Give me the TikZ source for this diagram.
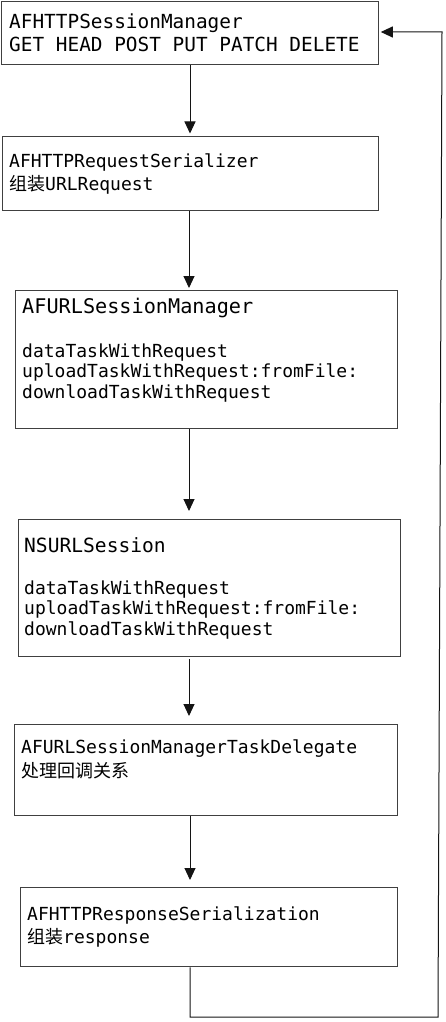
\documentclass[tikz,border=0pt]{standalone}
\usepackage{fontspec}
\setmainfont{DejaVu Sans Mono}
\newfontfamily\cjk{Noto Sans CJK SC}
\usetikzlibrary{arrows.meta}
\definecolor{boxline}{RGB}{64,64,64}
\definecolor{arrline}{RGB}{20,20,20}
\tikzset{
  box/.style={draw=boxline, line width=1.3pt, rectangle, inner sep=0pt, anchor=north west},
  txt/.style={inner sep=0pt, anchor=base west, text=black},
  fA/.style={font=\fontsize{19.4}{23}\selectfont},
  fB/.style={font=\fontsize{18}{21}\selectfont},
  fC/.style={font=\fontsize{20.2}{24}\selectfont},
  fD/.style={font=\fontsize{19.6}{24}\selectfont},
  arr/.style={draw=arrline, line width=1pt, -{Triangle[length=12pt,width=11pt]}},
}
\begin{document}
\begin{tikzpicture}[x=1pt,y=-1pt]
\useasboundingbox[fill=white] (0,0) rectangle (445,1022);
% boxes
\node[box, minimum width=377pt, minimum height=63pt] (b1) at (1,1) {};
\node[box, minimum width=376pt, minimum height=74pt] (b2) at (2,136) {};
\node[box, minimum width=382pt, minimum height=138pt] (b3) at (15,290) {};
\node[box, minimum width=382pt, minimum height=137pt] (b4) at (18,519) {};
\node[box, minimum width=383pt, minimum height=91pt] (b5) at (14,724) {};
\node[box, minimum width=377pt, minimum height=79pt] (b6) at (20,887) {};
% texts
\node[txt, fA] (t1a) at (9,29) {AFHTTPSessionManager};
\node[txt, fA] (t1b) at (9,52) {GET HEAD POST PUT PATCH DELETE};
\node[txt, fB] (t2a) at (9,167) {AFHTTPRequestSerializer};
\node[txt, fB] (t2b) at (9,190) {{\cjk 组装}URLRequest};
\node[txt, fC] (t3a) at (22,313) {AFURLSessionManager};
\node[txt, fB] (t3b) at (22,357) {dataTaskWithRequest};
\node[txt, fB] (t3c) at (22,377.5) {uploadTaskWithRequest:fromFile:};
\node[txt, fB] (t3d) at (22,398) {downloadTaskWithRequest};
\node[txt, fD] (t4a) at (24,552) {NSURLSession};
\node[txt, fB] (t4b) at (24,594) {dataTaskWithRequest};
\node[txt, fB] (t4c) at (24,614.5) {uploadTaskWithRequest:fromFile:};
\node[txt, fB] (t4d) at (24,635) {downloadTaskWithRequest};
\node[txt, fB] (t5a) at (21,753) {AFURLSessionManagerTaskDelegate};
\node[txt, fB] (t5b) at (21,777) {\cjk 处理回调关系};
\node[txt, fB] (t6a) at (27,920) {AFHTTPResponseSerialization};
\node[txt, fB] (t6b) at (27,943) {{\cjk 组装}response};
% helper coordinates
\coordinate (x190) at (190,0);
\coordinate (x189) at (189,0);
\coordinate (cb) at (190,1017);
\coordinate (cr) at (438,1017);
\coordinate (ct) at (442,32);
% connectors
\draw[arr, shorten >=2.5pt] (b1.south -| x190) -- (b2.north -| x190);
\draw[arr, shorten >=2pt] (b2.south -| x189) -- (b3.north -| x189);
\draw[arr, shorten >=8pt] (b3.south -| x189) -- (b4.north -| x189);
\draw[arr, shorten <=2pt, shorten >=8pt] (b4.south -| x189) -- (b5.north -| x189);
\draw[arr, shorten >=7pt] (b5.south -| x190) -- (b6.north -| x190);
\draw[arr, shorten >=1.5pt] (b6.south -| x190) -- (cb) -- (cr) -- (ct) -- (ct -| b1.east);
\end{tikzpicture}
\end{document}
